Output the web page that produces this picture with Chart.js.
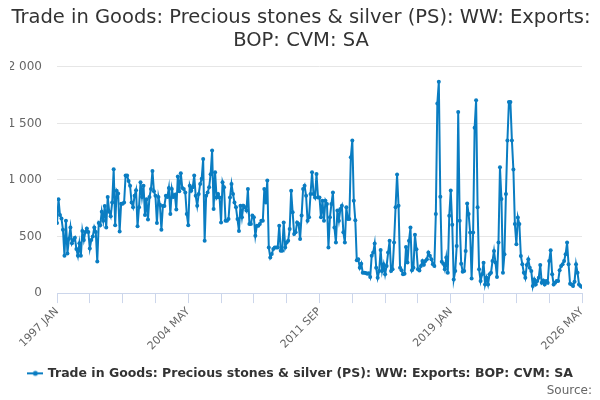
<!DOCTYPE html>
<html>
<head>
<meta charset="utf-8">
<script src="https://cdn.jsdelivr.net/npm/chart.js@4.4.1/dist/chart.umd.min.js"></script>
<style>
html,body{margin:0;padding:0;background:#ffffff;}
#wrap{width:600px;height:400px;}
</style>
</head>
<body>
<div id="wrap"><canvas id="c" width="600" height="400"></canvas></div>
<script>
// ---- data ----
const startYear = 1997;
const monthNames = ['JAN','FEB','MAR','APR','MAY','JUN','JUL','AUG','SEP','OCT','NOV','DEC'];
const seriesName = 'Trade in Goods: Precious stones & silver (PS): WW: Exports: BOP: CVM: SA';
const titleLines = ['Trade in Goods: Precious stones & silver (PS): WW: Exports:', 'BOP: CVM: SA'];
const sourceText = 'Source:';
const yTickValues = [0, 500, 1000, 1500, 2000];
const xLabelEvery = 88;
const xTickEvery = 22;

// monthly values, Jan 1997 .. May 2026
const exportValues = [
  620, 830, 690, 660, 560, 330, 640, 350, 480, 580, 440, 470,      // 1997
  490, 390, 330, 440, 330, 550, 470, 540, 570, 540, 395, 470,      // 1998
  500, 580, 540, 280, 620, 600, 720, 640, 770, 580, 850, 720,      // 1999
  680, 800, 1095, 600, 905, 880, 545, 790, 790, 800, 1040, 1040,   // 2000
  990, 950, 800, 760, 860, 910, 590, 760, 980, 850, 950, 690,      // 2001
  830, 650, 850, 920, 1080, 900, 860, 620, 850, 780, 560, 770,     // 2002
  770, 860, 850, 930, 700, 920, 850, 870, 740, 1030, 900, 1060,    // 2003
  930, 920, 890, 700, 600, 950, 905, 935, 1040, 860, 773, 876,     // 2004
  965, 1010, 1185, 463, 860, 890, 935, 1050, 1260, 743, 1068, 846, // 2005
  876, 846, 625, 980, 935, 640, 640, 655, 846, 965, 876, 800,      // 2006
  758, 655, 550, 773, 670, 773, 758, 730, 920, 610, 610, 685,      // 2007
  670, 507, 596, 596, 610, 640, 640, 920, 800, 995, 404, 315,      // 2008
  345, 390, 404, 404, 404, 596, 375, 375, 625, 404, 448, 463,      // 2009
  566, 905, 714, 522, 537, 625, 610, 478, 685, 920, 950, 860,      // 2010
  640, 670, 876, 1068, 876, 846, 1053, 846, 846, 670, 817, 640,    // 2011
  817, 788, 404, 670, 788, 890, 580, 448, 730, 640, 743, 773,      // 2012
  537, 448, 758, 655, 655, 1200, 1350, 817, 645, 290, 300, 225,    // 2013
  260, 180, 180, 178, 170, 175, 142, 330, 358, 438, 225, 136,      // 2014
  195, 382, 195, 255, 166, 240, 358, 462, 195, 210, 447, 758,      // 2015
  1048, 773, 225, 201, 166, 170, 408, 270, 462, 580, 201, 225,     // 2016
  515, 388, 210, 200, 240, 284, 250, 284, 300, 358, 330, 300,      // 2017
  255, 240, 700, 1675, 1868, 852, 278, 260, 210, 314, 180, 684,    // 2018
  906, 604, 121, 195, 417, 1601, 639, 260, 189, 195, 373, 793,     // 2019
  699, 536, 130, 536, 1462, 1705, 758, 210, 107, 166, 269, 77,     // 2020
  136, 77, 166, 180, 284, 373, 270, 142, 447, 1113, 832, 180,      // 2021
  343, 876, 1350, 1690, 1690, 1350, 1092, 610, 432, 669, 610, 329, // 2022
  255, 180, 136, 249, 299, 225, 195, 62, 121, 77, 107, 136,        // 2023
  249, 92, 112, 77, 107, 92, 284, 379, 166, 77, 92, 107,           // 2024
  107, 201, 240, 255, 284, 343, 447, 255, 83, 77, 62, 101,         // 2025
  255, 180, 77, 62, 53                                             // 2026
];

const categories = exportValues.map((v, i) => (startYear + Math.floor(i / 12)) + ' ' + monthNames[i % 12]);

// ---- styles ----
const lineColor = '#0a7dc2';
const fontFamily = '"DejaVu Sans", Verdana, sans-serif';
Chart.defaults.font.family = fontFamily;

function fmt(v) { return String(v).replace(/\B(?=(\d{3})+(?!\d))/g, ' '); }

// legend symbol: short line with a dot
const sym = document.createElement('canvas');
sym.width = 16; sym.height = 8;
(function () {
  const g = sym.getContext('2d');
  g.strokeStyle = lineColor; g.lineWidth = 2;
  g.beginPath(); g.moveTo(0, 4); g.lineTo(16, 4); g.stroke();
  g.fillStyle = lineColor;
  g.beginPath(); g.arc(8, 4, 2.5, 0, Math.PI * 2); g.fill();
})();

const points = exportValues.map((v, i) => ({ x: i, y: v }));

new Chart(document.getElementById('c'), {
  type: 'line',
  data: {
    datasets: [{
      label: seriesName,
      data: points,
      borderColor: lineColor,
      backgroundColor: lineColor,
      borderWidth: 2,
      pointRadius: 2,
      pointBorderWidth: 0,
      pointBackgroundColor: lineColor,
      tension: 0,
      fill: false
    }]
  },
  options: {
    responsive: false,
    devicePixelRatio: 1,
    animation: false,
    layout: { padding: { left: 10, right: 8, top: 7, bottom: 0 } },
    scales: {
      x: {
        type: 'linear',
        min: 0,
        max: exportValues.length - 1,
        afterBuildTicks(scale) {
          const t = [];
          for (let i = 0; i < exportValues.length; i += xTickEvery) t.push({ value: i });
          scale.ticks = t;
        },
        afterFit(scale) { scale.height = 73; },
        grid: { drawOnChartArea: false, drawTicks: true, tickLength: 10, color: '#ccd6eb', lineWidth: 1 },
        border: { display: true, color: '#ccd6eb', width: 1 },
        ticks: {
          autoSkip: false,
          minRotation: 45,
          maxRotation: 45,
          padding: 2,
          color: '#666666',
          font: { size: 11 },
          callback(value) {
            return (value % xLabelEvery === 0) ? categories[value] : '';
          }
        }
      },
      y: {
        min: 0,
        max: 2000,
        afterBuildTicks(scale) { scale.ticks = yTickValues.map(v => ({ value: v })); },
        afterFit(scale) { scale.width = 47; },
        grid: { color: '#e6e6e6', drawTicks: false, lineWidth: 1 },
        border: { display: false },
        ticks: {
          padding: 15,
          color: '#666666',
          font: { size: 12 },
          callback(value) { return fmt(value); }
        }
      },
      yRight: {
        position: 'right',
        display: true,
        min: 0,
        max: 2000,
        afterFit(scale) { scale.width = 10; },
        grid: { display: false, drawTicks: false },
        border: { display: false },
        ticks: { display: false }
      }
    },
    plugins: {
      title: {
        display: true,
        text: titleLines,
        color: '#333333',
        font: { size: 19.5, weight: 'normal', lineHeight: 1.15 },
        padding: { top: 0, bottom: 15 }
      },
      subtitle: {
        display: true,
        position: 'bottom',
        align: 'end',
        text: sourceText,
        color: '#666666',
        font: { size: 12, weight: 'normal' },
        padding: { top: -6, bottom: 2 }
      },
      legend: {
        display: true,
        position: 'bottom',
        labels: {
          usePointStyle: true,
          pointStyle: sym,
          color: '#333333',
          font: { size: 12.5, weight: 'bold' },
          padding: 1
        }
      },
      tooltip: { enabled: false }
    }
  }
});
</script>
</body>
</html>
